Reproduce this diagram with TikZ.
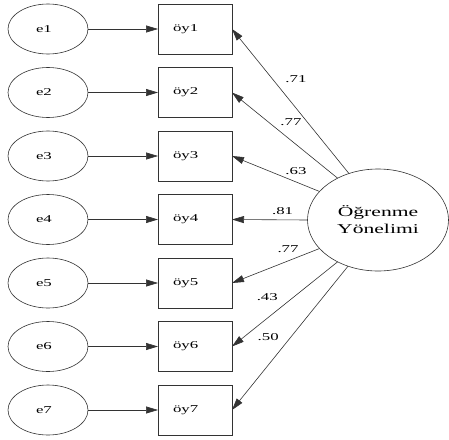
\documentclass[tikz,border=0pt]{standalone}
\usepackage{fontspec}
\setmainfont{Liberation Serif}
\newfontfamily\widefont[FakeStretch=1.6]{Liberation Serif}
\usetikzlibrary{positioning, arrows, arrows.meta, shapes.geometric}
\tikzset{
    x=1pt, y=-1pt, % pixel units, y pointing down
    >={Triangle[length=12pt, width=7pt]}, % filled arrowheads
    node distance=63.5pt, % distance between rows
    every edge/.style={draw=black!80, line width=0.6pt},
    err/.style={ellipse, draw=black!80, line width=0.6pt, minimum width=80pt, minimum height=50pt, inner sep=0pt, outer sep=0pt, text width=24pt, align=left, font=\widefont\fontsize{10.5}{12}\selectfont}, % error terms
    item/.style={rectangle, draw=black!80, line width=0.6pt, minimum height=50pt, inner xsep=15pt, inner ysep=0pt, outer sep=0pt, text width=44pt, align=left, font=\widefont\fontsize{10.5}{12}\selectfont}, % observed items
    latent/.style={ellipse, draw=black!80, line width=0.6pt, minimum width=141pt, minimum height=102pt, inner sep=0pt, outer sep=0pt, align=center, font=\widefont\fontsize{13.5}{17}\selectfont}, % latent factor
    coef/.style={font=\widefont\fontsize{10.5}{12}\selectfont, inner sep=0pt}, % loadings
}
\begin{document}
\begin{tikzpicture}
    \useasboundingbox (0,0) rectangle (449,439);

    \node[err] (e1) at (48,29) {e1};
    \node[err] (e2) [below of=e1] {e2};
    \node[err] (e3) [below of=e2] {e3};
    \node[err] (e4) [below of=e3] {e4};
    \node[err] (e5) [below of=e4] {e5};
    \node[err] (e6) [below of=e5] {e6};
    \node[err] (e7) [below of=e6] {e7};

    \node[item] (oy1) [right of=e1, node distance=147pt] {öy1};
    \node[item] (oy2) [right of=e2, node distance=147pt] {öy2};
    \node[item] (oy3) [right of=e3, node distance=147pt] {öy3};
    \node[item] (oy4) [right of=e4, node distance=147pt] {öy4};
    \node[item] (oy5) [right of=e5, node distance=147pt] {öy5};
    \node[item] (oy6) [right of=e6, node distance=147pt] {öy6};
    \node[item] (oy7) [right of=e7, node distance=147pt] {öy7};

    \node[latent] (ogr) at (378,220) {Öğrenme\\Yönelimi};

    \path[->]
        (e1) edge (oy1)
        (e2) edge (oy2)
        (e3) edge (oy3)
        (e4) edge (oy4)
        (e5) edge (oy5)
        (e6) edge (oy6)
        (e7) edge (oy7);

    \path[->]
        (ogr.122) edge node[coef, pos=0.65, xshift=23pt] {.71} (oy1.east)
        (ogr.134) edge node[coef, pos=0.66, xshift=23pt] {.77} (oy2.east)
        (ogr.154) edge node[coef, pos=0.27, yshift=11pt] {.63} (oy3.east)
        (ogr.180) edge node[coef, pos=0.33, yshift=9pt] {.81} (oy4.east)
        (ogr.206) edge node[coef, pos=0.36, yshift=12pt] {.77} (oy5.east)
        (ogr.226) edge node[coef, pos=0.42, xshift=-26pt] {.43} (oy6.east)
        (ogr.237) edge node[coef, pos=0.49, xshift=-23pt] {.50} (oy7.east);
\end{tikzpicture}
\end{document}
